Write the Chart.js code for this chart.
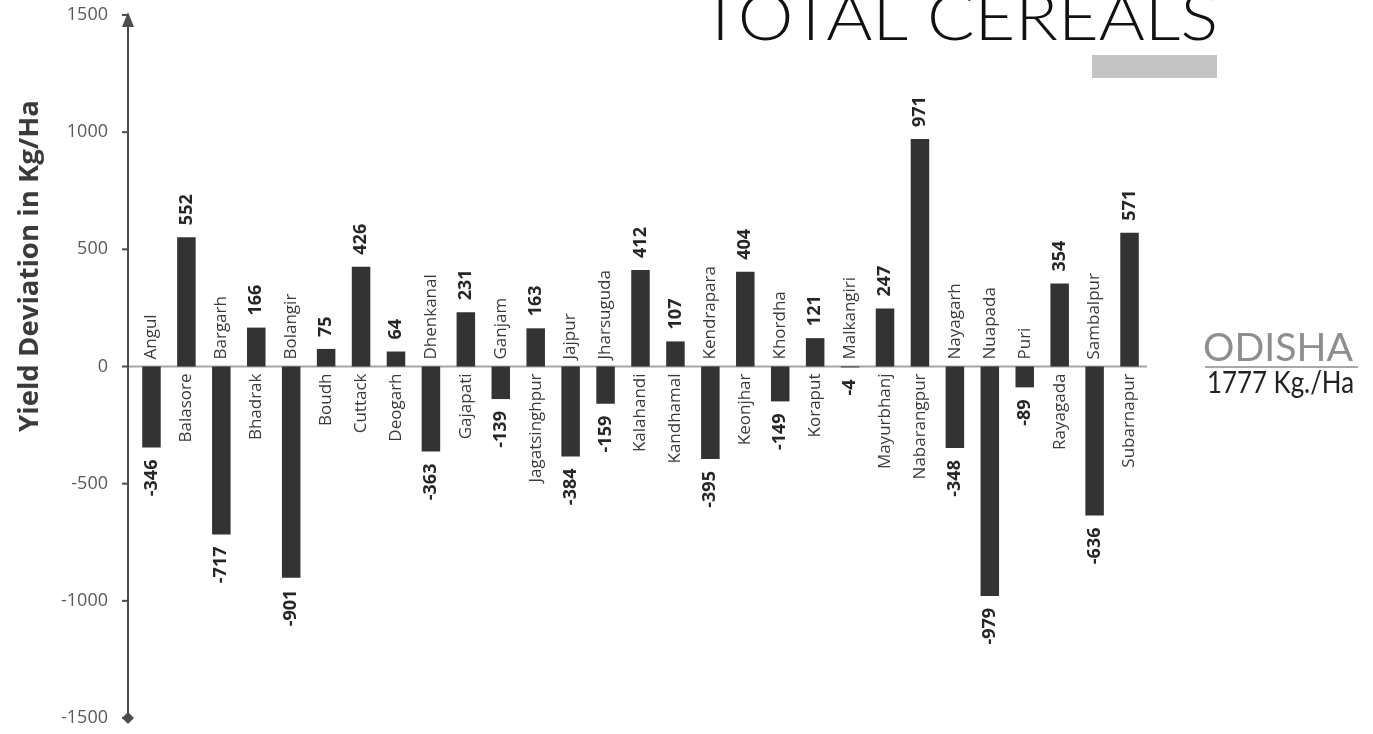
<!DOCTYPE html>
<html>
<head>
<meta charset="utf-8">
<script src="https://cdn.jsdelivr.net/npm/chart.js@4"></script>
<style>
  html, body { margin: 0; padding: 0; background: #fff; }
  #wrap { position: relative; width: 1373px; height: 734px; }
</style>
</head>
<body>
<div id="wrap"><canvas id="chart" width="1373" height="734"></canvas></div>
<script>
// Данные
const districts = ['Angul', 'Balasore', 'Bargarh', 'Bhadrak', 'Bolangir', 'Boudh', 'Cuttack', 'Deogarh',
    'Dhenkanal', 'Gajapati', 'Ganjam', 'Jagatsinghpur', 'Jajpur', 'Jharsuguda', 'Kalahandi', 'Kandhamal',
    'Kendrapara', 'Keonjhar', 'Khordha', 'Koraput', 'Malkangiri', 'Mayurbhanj', 'Nabarangpur', 'Nayagarh',
    'Nuapada', 'Puri', 'Rayagada', 'Sambalpur', 'Subarnapur'];
const deviation = [-346, 552, -717, 166, -901, 75, 426, 64, -363, 231, -139, 163, -384, -159, 412, 107,
    -395, 404, -149, 121, -4, 247, 971, -348, -979, -89, 354, -636, 571];
const yTicks = [-1500, -1000, -500, 0, 500, 1000, 1500];

const chartTitle = 'TOTAL CEREALS';
const axisTitle = 'Yield Deviation in Kg/Ha';
const stateName = 'ODISHA';
const stateYield = '1777 Kg./Ha';

const FONT = '"Open Sans", "Liberation Sans", sans-serif';
const GEO = 'Lato, "Liberation Sans", sans-serif';

// текст, подогнанный по ширине
function fitText(ctx, text, x, y, width, font, color) {
    ctx.save();
    ctx.font = font;
    const w = ctx.measureText(text).width;
    ctx.translate(x, y);
    ctx.scale(width / w, 1);
    ctx.fillStyle = color;
    ctx.textAlign = 'left';
    ctx.textBaseline = 'alphabetic';
    ctx.fillText(text, 0, 0);
    ctx.restore();
}

const decor = {
    id: 'decor',
    beforeDatasetsDraw(chart) {
        const { ctx, chartArea, scales: { y } } = chart;
        const y0 = y.getPixelForValue(0);
        ctx.save();
        ctx.strokeStyle = '#a6a6a6';
        ctx.lineWidth = 2;
        ctx.beginPath();
        ctx.moveTo(chartArea.left - 6, y0);
        ctx.lineTo(chartArea.right, y0);
        ctx.stroke();
        ctx.restore();
    },
    afterDatasetsDraw(chart) {
        const { ctx, chartArea, scales: { y } } = chart;
        const ax = chartArea.left - 6;
        const y0 = y.getPixelForValue(0);
        const top = y.getPixelForValue(1500);
        const bottom = y.getPixelForValue(-1500);
        ctx.save();

        // ось Y со стрелкой и ромбом
        ctx.strokeStyle = '#4d4d4d';
        ctx.fillStyle = '#4d4d4d';
        ctx.lineWidth = 2;
        ctx.beginPath();
        ctx.moveTo(ax, top + 4);
        ctx.lineTo(ax, bottom);
        ctx.stroke();
        yTicks.forEach(v => {
            const py = y.getPixelForValue(v);
            ctx.beginPath();
            ctx.moveTo(ax - 6, py);
            ctx.lineTo(ax, py);
            ctx.stroke();
        });
        ctx.beginPath();
        ctx.moveTo(ax, top - 3);
        ctx.lineTo(ax + 6, top + 12);
        ctx.lineTo(ax - 6, top + 12);
        ctx.closePath();
        ctx.fill();
        ctx.beginPath();
        ctx.moveTo(ax, bottom - 6);
        ctx.lineTo(ax + 6, bottom);
        ctx.lineTo(ax, bottom + 6);
        ctx.lineTo(ax - 6, bottom);
        ctx.closePath();
        ctx.fill();

        // подписи районов и значений
        const meta = chart.getDatasetMeta(0);
        meta.data.forEach((bar, i) => {
            const v = deviation[i];
            ctx.save();
            ctx.translate(bar.x, 0);
            ctx.rotate(-Math.PI / 2);
            ctx.textBaseline = 'middle';
            ctx.font = '17px ' + FONT;
            ctx.fillStyle = '#3a3a3a';
            if (v < 0) {
                ctx.textAlign = 'left';
                ctx.fillText(districts[i], -(y0 - 7), 0);
            } else {
                ctx.textAlign = 'right';
                ctx.fillText(districts[i], -(y0 + 7), 0);
            }
            ctx.font = 'bold 18px ' + FONT;
            ctx.fillStyle = '#262626';
            if (v < 0) {
                ctx.textAlign = 'right';
                ctx.fillText(String(v), -(bar.y + 12), 0);
            } else {
                ctx.textAlign = 'left';
                ctx.fillText(String(v), -(bar.y - 12), 0);
            }
            ctx.restore();
        });

        // заголовок оси
        ctx.save();
        ctx.translate(38, 432);
        ctx.rotate(-Math.PI / 2);
        fitText(ctx, axisTitle, 0, 0, 332, 'bold 26px ' + FONT, '#3b3b3b');
        ctx.restore();

        // заголовок и легенда справа
        fitText(ctx, chartTitle, 700, 40, 518, '300 66px ' + GEO, '#111');
        ctx.fillStyle = '#c4c4c4';
        ctx.fillRect(1092, 55, 125, 23);
        fitText(ctx, stateName, 1203, 361, 150, '38px ' + GEO, '#8e8e8e');
        ctx.strokeStyle = '#8c8c8c';
        ctx.lineWidth = 1.5;
        ctx.beginPath();
        ctx.moveTo(1205, 367);
        ctx.lineTo(1358, 367);
        ctx.stroke();
        fitText(ctx, stateYield, 1207, 393, 147, '30px ' + GEO, '#222');
        ctx.restore();
    }
};

new Chart(document.getElementById('chart'), {
    type: 'bar',
    data: {
        labels: districts,
        datasets: [{
            data: deviation,
            backgroundColor: '#333333',
            borderWidth: 0,
            barPercentage: 0.53,
            categoryPercentage: 1
        }]
    },
    options: {
        responsive: false,
        animation: false,
        layout: { padding: { left: 0, right: 226, top: 15, bottom: 16 } },
        plugins: { legend: { display: false }, tooltip: { enabled: false } },
        scales: {
            x: { display: false },
            y: {
                min: -1500,
                max: 1500,
                afterBuildTicks: s => { s.ticks = yTicks.map(v => ({ value: v })); },
                afterFit: s => { s.width = 134; s.paddingTop = 0; s.paddingBottom = 0; },
                grid: { display: false, drawTicks: false },
                border: { display: false },
                ticks: {
                    padding: 26,
                    color: '#595959',
                    font: { family: FONT, size: 18 },
                    callback: v => String(v)
                }
            }
        }
    },
    plugins: [decor]
});
</script>
</body>
</html>
